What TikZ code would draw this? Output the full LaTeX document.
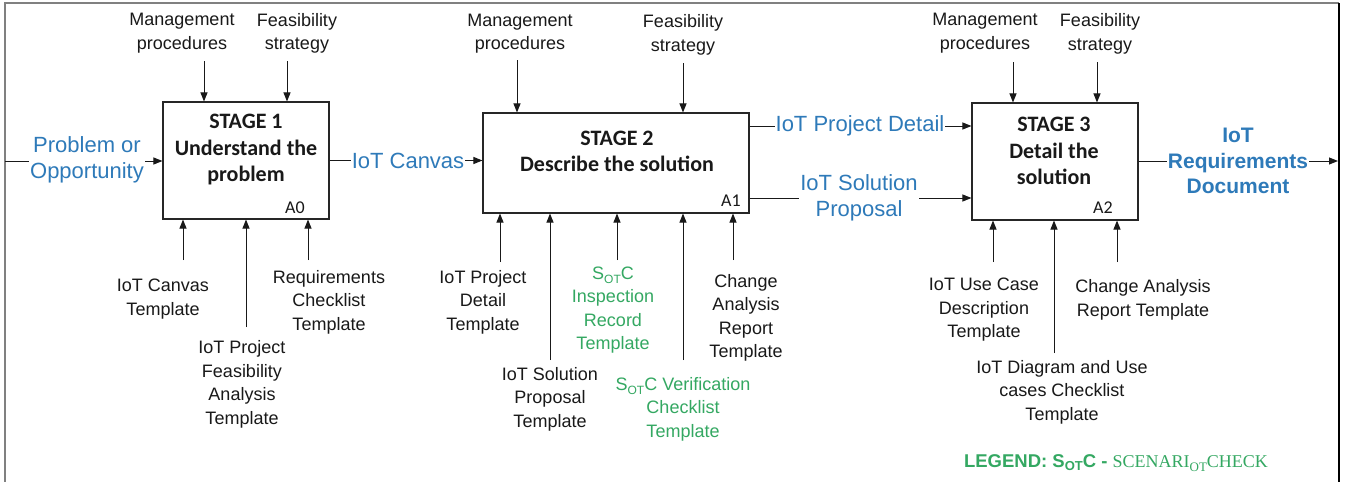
\documentclass[tikz,border=0pt]{standalone}
\usepackage{fontspec}
\setmainfont{Liberation Sans}
\newfontfamily\calfont{Carlito}
\newfontfamily\tmsfont{Liberation Serif}
\usetikzlibrary{arrows.meta}
\definecolor{iblue}{RGB}{46,122,185}
\definecolor{igreen}{RGB}{52,168,98}
\newcommand{\otsub}{\raisebox{-0.22em}{\fontsize{12}{12}\selectfont OT}}
\tikzset{
  procbox/.style={draw=black!85, line width=1.1pt, minimum width=166pt, minimum height=117pt, inner sep=0pt},
  arr/.style={line width=1pt, draw=black!90, -{Triangle[length=9pt,width=7pt]}},
  lbl/.style={font=\fontsize{18}{23.5}\selectfont, align=center, inner sep=1pt, text=black!90},
  glbl/.style={lbl, text=igreen},
  io/.style={font=\fontsize{22}{26}\selectfont, text=iblue, align=center, fill=white, inner sep=1pt},
  ttl/.style={font=\calfont\bfseries\fontsize{22}{26.5}\selectfont, align=center, text=black!90},
  aid/.style={font=\calfont\fontsize{18}{20}\selectfont, inner sep=0pt, text=black!90},
}
\begin{document}
\begin{tikzpicture}[x=1pt,y=-1pt]
\useasboundingbox (0,0) rectangle (1347,482);
\fill[white] (0,0) rectangle (1347,482);
% frame
\draw[gray, line width=1.2pt] (5,482) -- (5,3) -- (1339,3);
\draw[black, line width=1.2pt] (1339,3) -- (1339,482);

% boxes
\node[procbox] (b1) at (246,160.5) {};
\node[procbox, minimum width=266pt, minimum height=100pt] (b2) at (616,163) {};
\node[procbox] (b3) at (1055,161.5) {};

\node[ttl] (t1) at (246,150) {STAGE 1\\Understand the\\problem};
\node[ttl] (t2) at (617,151.5) {STAGE 2\\Describe the solution};
\node[ttl] (t3) at (1054,151) {STAGE 3\\Detail the\\solution};
\node[aid] (a0) at (295,208) {A0};
\node[aid] (a1) at (731,201) {A1};
\node[aid] (a2) at (1103,208) {A2};

% top controls
\node[lbl] (m1) at (182,33) {Management\\procedures};
\node[lbl] (f1) at (297,33.5) {Feasibility\\strategy};
\node[lbl] (m2) at (520,33.5) {Management\\procedures};
\node[lbl] (f2) at (683,35) {Feasibility\\strategy};
\node[lbl] (m3) at (985,33) {Management\\procedures};
\node[lbl] (f3) at (1100,34) {Feasibility\\strategy};

\coordinate (cm1) at (204,61);
\coordinate (cf1) at (287,61);
\coordinate (cm2) at (517,60);
\coordinate (cf2) at (683,63);
\coordinate (cm3) at (1013,62);
\coordinate (cf3) at (1097,62);
\draw[arr] (cm1) -- (cm1 |- b1.north);
\draw[arr] (cf1) -- (cf1 |- b1.north);
\draw[arr] (cm2) -- (cm2 |- b2.north);
\draw[arr] (cf2) -- (cf2 |- b2.north);
\draw[arr] (cm3) -- (cm3 |- b3.north);
\draw[arr] (cf3) -- (cf3 |- b3.north);

% bottom mechanisms, stage 1
\node[lbl] (c1) at (163,299) {IoT Canvas\\Template};
\node[lbl] (p1) at (242,384.5) {IoT Project\\Feasibility\\Analysis\\Template};
\node[lbl] (r1) at (329,302) {Requirements\\Checklist\\Template};
\coordinate (bc1) at (183,260);
\coordinate (bp1) at (246,327);
\coordinate (br1) at (308,260);
\draw[arr] (bc1) -- (bc1 |- b1.south);
\draw[arr] (bp1) -- (bp1 |- b1.south);
\draw[arr] (br1) -- (br1 |- b1.south);

% stage 2
\node[lbl] (d2) at (483,302) {IoT Project\\Detail\\Template};
\node[lbl] (s2) at (550,399) {IoT Solution\\Proposal\\Template};
\node[glbl] (i2) at (613,310) {S\otsub C\\Inspection\\Record\\Template};
\node[glbl] (v2) at (683,409) {S\otsub C Verification\\Checklist\\Template};
\node[lbl] (ch2) at (746,318) {Change\\Analysis\\Report\\Template};
\coordinate (bd2) at (500,262);
\coordinate (bs2) at (550,360);
\coordinate (bi2) at (617,260);
\coordinate (bv2) at (683,360);
\coordinate (bch2) at (733,260);
\draw[arr] (bd2) -- (bd2 |- b2.south);
\draw[arr] (bs2) -- (bs2 |- b2.south);
\draw[arr] (bi2) -- (bi2 |- b2.south);
\draw[arr] (bv2) -- (bv2 |- b2.south);
\draw[arr] (bch2) -- (bch2 |- b2.south);

% stage 3
\node[lbl] (u3) at (984,310) {IoT Use Case\\Description\\Template};
\node[lbl] (g3) at (1062,392) {IoT Diagram and Use\\cases Checklist\\Template};
\node[lbl] (ca3) at (1143,300) {Change Analysis\\Report Template};
\coordinate (bu3) at (993,262);
\coordinate (bg3) at (1054,353);
\coordinate (bca3) at (1117,262);
\draw[arr] (bu3) -- (bu3 |- b3.south);
\draw[arr] (bg3) -- (bg3 |- b3.south);
\draw[arr] (bca3) -- (bca3 |- b3.south);

% inputs / outputs
\coordinate (in1) at (5,161);
\draw[arr] (in1) -- (in1 -| b1.west);
\node[io] (po) at (87,160) {Problem or\\Opportunity};

\draw[arr] (b1.east) -- (b1.east -| b2.west);
\node[io] (cv) at (408,161) {IoT Canvas};

\coordinate (ypd) at (860,126);
\draw[arr] (ypd -| b2.east) -- (ypd -| b3.west);
\node[io] (pd) at (ypd) {IoT Project Detail};

\coordinate (ysp) at (859,198);
\draw[arr] (ysp -| b2.east) -- (ysp -| b3.west);
\node[io] (sp) at (ysp) {IoT Solution\\Proposal};

\coordinate (out3) at (1338,161);
\draw[arr] (b3.east |- out3) -- (out3);
\node[io, font=\bfseries\fontsize{21}{25.5}\selectfont] (rd) at (1238,161) {IoT\\Requirements\\Document};

% legend
\node[inner sep=0pt, text=igreen] (lg) at (1116,463) {\fontsize{18.5}{20}\selectfont\bfseries LEGEND: S{\fontsize{13}{13}\selectfont\raisebox{-0.22em}{OT}}C -\ {\tmsfont\mdseries\fontsize{18}{20}\selectfont SCENARI{\fontsize{13}{13}\selectfont\raisebox{-0.25em}{OT}}CHECK}};
\end{tikzpicture}
\end{document}
